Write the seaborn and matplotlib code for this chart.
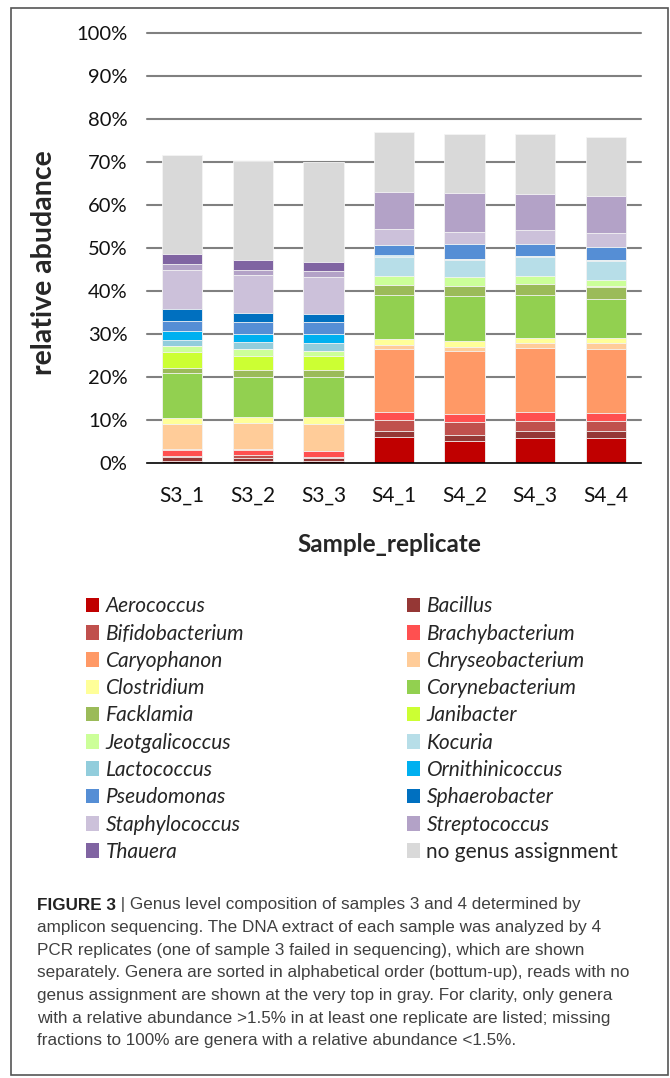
import matplotlib
matplotlib.use("Agg")
import matplotlib.pyplot as plt
import seaborn as sns
import pandas as pd
import numpy as np
from matplotlib.patches import Rectangle
from matplotlib.ticker import MultipleLocator, FixedLocator, PercentFormatter

samples = ["S3_1", "S3_2", "S3_3", "S4_1", "S4_2", "S4_3", "S4_4"]

genera = ["Aerococcus", "Bacillus", "Bifidobacterium", "Brachybacterium",
          "Caryophanon", "Chryseobacterium", "Clostridium", "Corynebacterium",
          "Facklamia", "Janibacter", "Jeotgalicoccus", "Kocuria",
          "Lactococcus", "Ornithinicoccus", "Pseudomonas", "Sphaerobacter",
          "Staphylococcus", "Streptococcus", "Thauera", "no genus assignment"]

colors = ["#C00000", "#953735", "#C0504D", "#FF5050",
          "#FF9966", "#FFCC99", "#FFFF99", "#92D050",
          "#9BBB59", "#CCFF33", "#CCFF99", "#B7DEE8",
          "#92CDDC", "#00B0F0", "#558ED5", "#0070C0",
          "#CCC1DA", "#B3A2C7", "#8064A2", "#D9D9D9"]

# relative abundance (%) per genus, in sample order
aerococcus       = [0.5, 0.5, 0.5, 6.0, 5.2, 5.7, 5.7]
bacillus         = [1.0, 0.7, 0.6, 1.5, 1.4, 1.7, 1.7]
bifidobacterium  = [0.1, 0.6, 0.3, 2.6, 2.9, 2.4, 2.4]
brachybacterium  = [1.5, 1.2, 1.3, 1.7, 1.9, 2.0, 1.8]
caryophanon      = [0.1, 0.3, 0.1, 14.6, 14.7, 15.0, 15.0]
chryseobacterium = [5.8, 6.0, 6.2, 1.1, 0.8, 1.0, 1.2]
clostridium      = [1.4, 1.4, 1.6, 1.4, 1.4, 1.3, 1.3]
corynebacterium  = [10.6, 9.2, 9.4, 10.2, 10.5, 10.0, 9.1]
facklamia        = [1.2, 1.7, 1.6, 2.2, 2.3, 2.5, 2.7]
janibacter       = [3.6, 3.3, 3.2, 0.1, 0.1, 0.1, 0.2]
jeotgalicoccus   = [1.4, 1.6, 1.3, 2.1, 2.0, 1.9, 1.5]
kocuria          = [0.0, 0.0, 0.0, 4.5, 4.0, 4.3, 4.3]
lactococcus      = [1.5, 1.7, 1.8, 0.2, 0.2, 0.3, 0.2]
ornithinicoccus  = [1.9, 1.8, 2.2, 0.1, 0.0, 0.0, 0.0]
pseudomonas      = [2.5, 2.7, 2.8, 2.5, 3.5, 2.8, 3.1]
sphaerobacter    = [2.6, 2.2, 1.8, 0.0, 0.0, 0.0, 0.0]
staphylococcus   = [9.3, 8.9, 8.5, 3.7, 2.9, 3.1, 3.3]
streptococcus    = [1.2, 1.2, 1.4, 8.5, 8.9, 8.5, 8.5]
thauera          = [2.4, 2.2, 2.1, 0.0, 0.0, 0.0, 0.0]
no_genus         = [23.0, 23.1, 23.2, 14.0, 13.8, 13.8, 13.8]

values = [aerococcus, bacillus, bifidobacterium, brachybacterium, caryophanon,
          chryseobacterium, clostridium, corynebacterium, facklamia, janibacter,
          jeotgalicoccus, kocuria, lactococcus, ornithinicoccus, pseudomonas,
          sphaerobacter, staphylococcus, streptococcus, thauera, no_genus]

df = pd.DataFrame(np.array(values).T, columns=genera)
df.insert(0, "sample", samples)
cum = df[genera].cumsum(axis=1)
cum["sample"] = samples

sns.set_style("white")
FONT = ["Lato", "DejaVu Sans"]
plt.rcParams["font.family"] = FONT

W, H = 670, 1078
fig = plt.figure(figsize=(W / 100, H / 100), dpi=100)
ax = fig.add_axes([147 / W, 1 - 463 / H, (641 - 147) / W, (463 - 33) / H])

# draw cumulative bars from top genus down so each lower segment overlays
for g, c in reversed(list(zip(genera, colors))):
    sns.barplot(data=cum, x="sample", y=g, color=c, saturation=1, width=0.57,
                ax=ax, label=g, edgecolor="#f4f4f4", linewidth=0.6, zorder=3)

handles, labels = ax.get_legend_handles_labels()
if ax.get_legend() is not None:
    ax.get_legend().remove()

ax.set_ylim(0, 100)
ax.set_xlim(-0.5, 6.5)
ax.yaxis.set_major_locator(MultipleLocator(10))
ax.yaxis.set_major_formatter(PercentFormatter(decimals=0))
for v in range(10, 101, 10):
    ax.axhline(v, color="#808080", lw=1.5, zorder=1, clip_on=False)

for s in ["top", "right", "left"]:
    ax.spines[s].set_visible(False)
ax.spines["bottom"].set_color("black")
ax.spines["bottom"].set_linewidth(1.2)
ax.spines["bottom"].set_zorder(5)

ax.tick_params(axis="y", length=0, pad=14, labelsize=14.5, labelcolor="#111111")
ax.tick_params(axis="x", which="major", length=0, pad=16, labelsize=15,
               labelcolor="#111111")
ax.xaxis.set_minor_locator(FixedLocator(np.arange(-0.5, 7, 1)))
ax.tick_params(axis="x", which="minor", direction="in", length=5, width=1.2,
               color="black")
ax.set_xlabel("Sample_replicate", fontsize=17.5, fontweight="bold")
ax.set_ylabel("relative abudance", fontsize=20.5, fontweight="bold")
ax.xaxis.set_label_coords(0.49, -0.163)
ax.yaxis.set_label_coords(-0.183, 0.465)
ax.grid(False)

# legend, row-major order in two columns
hmap = dict(zip(labels, handles))
order = [genera[i] for i in range(0, 20, 2)] + [genera[i] for i in range(1, 20, 2)]
leg = fig.legend([hmap[g] for g in order], order, loc="upper left",
                 bbox_to_anchor=(78 / W, 1 - 588 / H), ncol=2, frameon=False,
                 fontsize=15, handlelength=0.63, handleheight=0.7,
                 handletextpad=0.29, labelspacing=0.35, columnspacing=7.84,
                 borderaxespad=0)
for t in leg.get_texts():
    if t.get_text() != "no genus assignment":
        t.set_fontstyle("italic")
for h in leg.legend_handles:
    h.set_edgecolor("none")

# caption
cap_font = ["Liberation Sans", "DejaVu Sans"]
cap_col = "#404040"
cap_fs = 12.3
lines = [
    None,
    "amplicon sequencing. The DNA extract of each sample was analyzed by 4",
    "PCR replicates (one of sample 3 failed in sequencing), which are shown",
    "separately. Genera are sorted in alphabetical order (bottum-up), reads with no",
    "genus assignment are shown at the very top in gray. For clarity, only genera",
    "with a relative abundance >1.5% in at least one replicate are listed; missing",
    "fractions to 100% are genera with a relative abundance <1.5%.",
]
y0 = 905
dy = 22.6
x0 = 37 / W
t1 = fig.text(x0, 1 - y0 / H, "FIGURE 3", fontsize=cap_fs, fontweight="bold",
              color="#222222", family=cap_font, va="center")
ax.annotate(" | Genus level composition of samples 3 and 4 determined by",
            xy=(1, 0.5), xycoords=t1, va="center", ha="left", fontsize=cap_fs,
            color=cap_col, family=cap_font, annotation_clip=False)
for i, ln in enumerate(lines):
    if ln is None:
        continue
    fig.text(x0, 1 - (y0 + i * dy) / H, ln, fontsize=cap_fs, color=cap_col,
             family=cap_font, va="center")

# frame around the whole figure
fig.add_artist(Rectangle((11 / W, 1 - 1075 / H), (668 - 11) / W, (1075 - 8) / H,
                         transform=fig.transFigure, fill=False,
                         edgecolor="#555555", linewidth=1.2))

fig.savefig("out.png", dpi=100, facecolor="white")
